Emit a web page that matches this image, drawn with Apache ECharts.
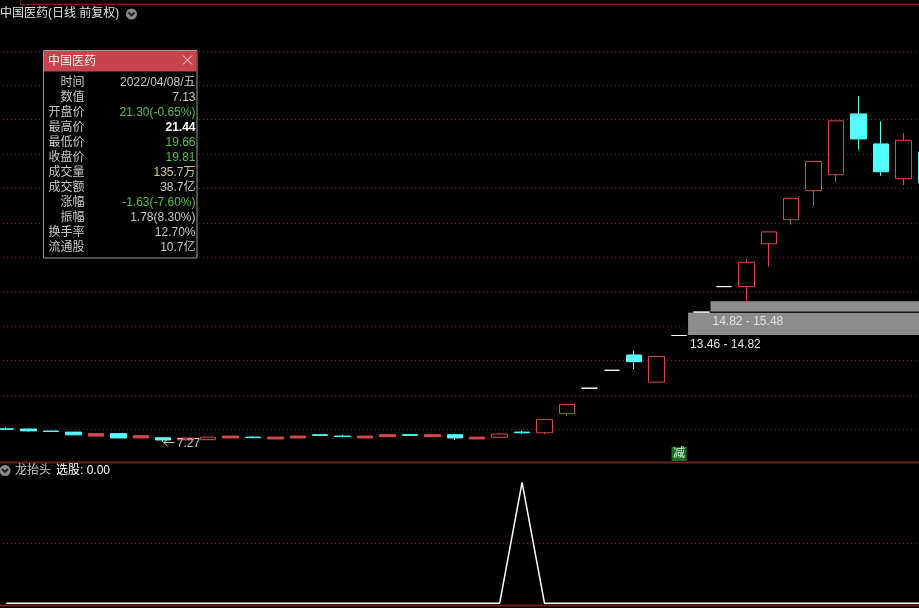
<!DOCTYPE html>
<html><head><meta charset="utf-8">
<script src="https://cdn.jsdelivr.net/npm/echarts@6/dist/echarts.min.js"></script>
<style>html,body{margin:0;padding:0;background:#000;overflow:hidden;width:919px;height:608px;position:relative}#c{position:absolute;left:-5px;top:0;width:942px;height:608px}</style>
</head><body><div id="c"></div>
<script>
// ---- data ----
const categories = [
 '2022/01/17','2022/01/18','2022/01/19','2022/01/20','2022/01/21','2022/01/24','2022/01/25','2022/01/26','2022/01/27','2022/01/28',
 '2022/02/07','2022/02/08','2022/02/09','2022/02/10','2022/02/11','2022/02/14','2022/02/15','2022/02/16','2022/02/17','2022/02/18',
 '2022/02/21','2022/02/22','2022/02/23','2022/02/24','2022/02/25','2022/02/28','2022/03/01','2022/03/02','2022/03/03','2022/03/04',
 '2022/03/07','2022/03/08','2022/03/09','2022/03/10','2022/03/11','2022/03/14','2022/03/15','2022/03/16','2022/03/17','2022/03/18',
 '2022/03/21','2022/03/22'];
const opens  = [8.04,8.03,7.91,7.85,7.62,7.76,7.51,7.52,7.40,7.41, 7.51,7.56,7.45,7.51,7.70,7.62,7.51,7.58,7.70,7.58, 7.70,7.45,7.55,7.85,7.81,8.92,10.40,11.44,12.33,10.75, 13.46,14.82,16.30,16.30,18.79,20.19,21.87,22.80,26.33,24.59, 22.57,24.12];
const closes = [8.02,7.92,7.89,7.69,7.76,7.51,7.64,7.39,7.50,7.56, 7.62,7.53,7.56,7.62,7.66,7.59,7.62,7.70,7.66,7.70, 7.51,7.56,7.74,7.81,8.59,9.45,10.40,11.44,11.94,12.24, 13.46,14.82,16.30,17.71,19.48,21.43,23.57,25.93,24.88,22.97, 24.80,22.34];
const highs  = [8.14,8.05,7.92,7.85,7.76,7.76,7.64,7.53,7.52,7.56, 7.62,7.62,7.56,7.62,7.71,7.70,7.62,7.70,7.71,7.70, 7.71,7.56,7.81,7.93,8.59,9.45,10.40,11.44,12.58,12.24, 13.46,14.82,16.30,17.90,19.48,21.43,23.57,25.93,27.37,25.90, 25.22,24.30];
const lows   = [7.97,7.87,7.88,7.68,7.62,7.51,7.51,7.27,7.36,7.41, 7.51,7.50,7.45,7.51,7.65,7.55,7.51,7.58,7.65,7.58, 7.39,7.45,7.54,7.74,7.74,8.78,10.40,11.44,11.51,10.75, 13.46,14.82,16.30,15.48,17.46,19.90,21.00,22.39,24.26,22.74, 22.20,22.10];
const signal = [0,0,0,0,0,0,0,0,0,0, 0,0,0,0,0,0,0,0,0,0, 0,0,0,1,0,0,0,0,0,0, 0,0,0,0,0,0,0,0,0,0, 0,0];
const gapStart = [30, 31];
const gapLow   = [13.46, 14.82];
const gapHigh  = [14.82, 15.48];
const reduceIdx = [30];
const priceTicks = {min: 6, max: 32, step: 2};
const signalTicks = {min: 0, max: 1, step: 0.5};
const chartTitle = '中国医药(日线 前复权)';
const indName = '龙抬头';
const indValue = '选股: 0.00';
const tipTitle = '中国医药';
const tipLabels = ['时间','数值','开盘价','最高价','最低价','收盘价','成交量','成交额','涨幅','振幅','换手率','流通股'];
const tipValues = ['2022/04/08/五','7.13','21.30(-0.65%)','21.44','19.66','19.81','135.7万','38.7亿','-1.63(-7.60%)','1.78(8.30%)','12.70%','10.7亿'];

// ---- styles ----
const UP = '#d84a4a', DOWN = '#54ffff', GRIDC = '#6e2626';
const FONT = '"Liberation Sans","Noto Sans CJK SC",sans-serif';
const GRAY = '#c8c8c8', GREEN = '#4cc04c';
const tipColors = [GRAY,GRAY,GREEN,'#ffffff',GREEN,GREEN,'#cccc8c',GRAY,GREEN,GRAY,GRAY,GRAY];
const OFF = 5; // canvas is shifted 5px left of the page
const mainTop = 16.34, mainH = 447.6;
const pxPerUnit = mainH / (priceTicks.max - priceTicks.min);

const candleData = categories.map((d, i) => {
  const o = opens[i], c = closes[i], l = lows[i], h = highs[i];
  const item = {value: [o, c, l, h]};
  if (o === c && h === l) item.itemStyle = {color: '#fff', color0: '#fff', borderColor: '#fff', borderColor0: '#fff'};
  else if (c > o && (c - o) * pxPerUnit < 2.5) item.itemStyle = {color: UP};
  return item;
});
const gapData = gapStart.map((s, i) => [s, gapLow[i], gapHigh[i]]);

const chart = echarts.init(document.getElementById('c'), null, {renderer: 'canvas'});
const splitCfg = {show: true, showMinLine: false, showMaxLine: false, lineStyle: {color: GRIDC, type: [1, 3], width: 1}};
chart.setOption({
  backgroundColor: '#000',
  animation: false,
  grid: [
    {left: 0, right: 0, top: mainTop, height: mainH},
    {left: 0, right: 0, top: 482.3, height: 121}
  ],
  xAxis: [
    {type: 'category', gridIndex: 0, data: categories, boundaryGap: true, axisLine: {show: false}, axisTick: {show: false}, axisLabel: {show: false}, splitLine: {show: false}},
    {type: 'category', gridIndex: 1, data: categories, boundaryGap: true, axisLine: {show: false}, axisTick: {show: false}, axisLabel: {show: false}, splitLine: {show: false}}
  ],
  yAxis: [
    {type: 'value', gridIndex: 0, min: priceTicks.min, max: priceTicks.max, interval: priceTicks.step, axisLine: {show: false}, axisTick: {show: false}, axisLabel: {show: false}, splitLine: splitCfg},
    {type: 'value', gridIndex: 1, min: signalTicks.min, max: signalTicks.max, interval: signalTicks.step, axisLine: {show: false}, axisTick: {show: false}, axisLabel: {show: false}, splitLine: splitCfg}
  ],
  series: [
    {
      type: 'candlestick', xAxisIndex: 0, yAxisIndex: 0, data: candleData, barWidth: 16, silent: true, z: 3,
      itemStyle: {color: '#000', color0: DOWN, borderColor: UP, borderColor0: DOWN, borderWidth: 1}
    },
    {
      type: 'custom', xAxisIndex: 0, yAxisIndex: 0, data: gapData, silent: true, z: 2,
      encode: {x: 0, y: [1, 2]},
      renderItem: (params, api) => {
        const idx = api.value(0), lo = api.value(1), hi = api.value(2);
        const pLo = api.coord([idx, lo]), pHi = api.coord([idx, hi]);
        const x0 = pLo[0] + 8.5;
        const x1 = params.coordSys.x + params.coordSys.width;
        return {type: 'group', children: [
          {type: 'rect', shape: {x: x0, y: pHi[1], width: x1 - x0, height: pLo[1] - pHi[1]}, style: {fill: '#8c8c8c', stroke: '#000', lineWidth: 1}},
          {type: 'text', style: {text: lo.toFixed(2) + ' - ' + hi.toFixed(2), x: x0 + 2.5, y: pLo[1] + 3.5, fill: '#e2e2e2', font: '12px ' + FONT, verticalAlign: 'top', align: 'left'}}
        ]};
      }
    },
    {
      type: 'line', xAxisIndex: 1, yAxisIndex: 1, data: signal, symbol: 'none', silent: true,
      lineStyle: {color: '#ffffff', width: 1.5}
    }
  ]
});

// ---- overlay graphics (page coordinates, shifted by OFF inside the group) ----
const g = [];
g.push({type: 'line', shape: {x1: 20, y1: 4.5, x2: 940, y2: 4.5}, style: {stroke: '#7a2222', lineWidth: 1}});
g.push({type: 'line', shape: {x1: 20.5, y1: 0, x2: 20.5, y2: 4.5}, style: {stroke: '#7a2222', lineWidth: 1}});
g.push({type: 'line', shape: {x1: -OFF, y1: 462.5, x2: 940, y2: 462.5}, style: {stroke: '#6e2020', lineWidth: 2}});
g.push({type: 'line', shape: {x1: -OFF, y1: 605.5, x2: 940, y2: 605.5}, style: {stroke: '#6e2020', lineWidth: 2}});
g.push({type: 'text', style: {text: chartTitle, x: 0, y: 14, fill: '#e0e0e0', font: '12px ' + FONT, verticalAlign: 'middle'}});
function icon(cx, cy) {
  g.push({type: 'circle', shape: {cx: cx, cy: cy, r: 5.5}, style: {fill: '#8a8a8a'}});
  g.push({type: 'polyline', shape: {points: [[cx - 3, cy - 1.5], [cx, cy + 1.5], [cx + 3, cy - 1.5]]}, style: {stroke: '#1c1c1c', lineWidth: 1.8, fill: null}});
}
icon(131.5, 14);
icon(5, 470.5);
g.push({type: 'text', style: {text: indName, x: 15, y: 471, fill: '#c8c8c8', font: '12px ' + FONT, verticalAlign: 'middle'}});
g.push({type: 'text', style: {text: indValue, x: 56, y: 471, fill: '#ffffff', font: '12px ' + FONT, verticalAlign: 'middle'}});
g.push({type: 'rect', shape: {x: 43.5, y: 50.5, width: 153.5, height: 207.5}, style: {fill: '#000', stroke: '#9a9a9a', lineWidth: 1}, z: 50});
g.push({type: 'rect', shape: {x: 44, y: 51, width: 152.5, height: 20.5}, style: {fill: '#c8444c'}, z: 51});
g.push({type: 'text', style: {text: tipTitle, x: 48, y: 61.5, fill: '#f2f2f2', font: '12px ' + FONT, verticalAlign: 'middle'}, z: 52});
g.push({type: 'line', shape: {x1: 183, y1: 55.5, x2: 192, y2: 64.5}, style: {stroke: '#e8e8e8', lineWidth: 1}, z: 52});
g.push({type: 'line', shape: {x1: 192, y1: 55.5, x2: 183, y2: 64.5}, style: {stroke: '#e8e8e8', lineWidth: 1}, z: 52});
tipLabels.forEach((lab, k) => {
  const y = 82.5 + 15 * k;
  g.push({type: 'text', style: {text: lab, x: 84.5, y: y, fill: GRAY, font: '12px ' + FONT, align: 'right', verticalAlign: 'middle'}, z: 52});
  g.push({type: 'text', style: {text: tipValues[k], x: 195.5, y: y, fill: tipColors[k], font: (k === 3 ? 'bold ' : '') + '12px ' + FONT, align: 'right', verticalAlign: 'middle'}, z: 52});
});
// lowest price marker (position from the chart's scales, converted to page coordinates)
let lowIdx = 0;
lows.forEach((v, i) => { if (v < lows[lowIdx]) lowIdx = i; });
const pLow = chart.convertToPixel({xAxisIndex: 0, yAxisIndex: 0}, [lowIdx, lows[lowIdx]]);
const ax = pLow[0] - OFF + 0.5, ay = Math.round(pLow[1]) + 0.5;
g.push({type: 'polyline', shape: {points: [[ax + 4, ay - 3.5], [ax, ay], [ax + 4, ay + 3.5]]}, style: {stroke: '#c8c8c8', lineWidth: 1, fill: null}, z: 10});
g.push({type: 'line', shape: {x1: ax, y1: ay, x2: ax + 11, y2: ay}, style: {stroke: '#c8c8c8', lineWidth: 1}, z: 10});
g.push({type: 'text', style: {text: lows[lowIdx].toFixed(2), x: ax + 13, y: ay + 1, fill: '#c8c8c8', font: '12px ' + FONT, verticalAlign: 'middle'}, z: 10});
reduceIdx.forEach(ri => {
  const p = chart.convertToPixel({xAxisIndex: 0, yAxisIndex: 0}, [ri, priceTicks.min]);
  const px = p[0] - OFF;
  g.push({type: 'rect', shape: {x: px - 7.5, y: 447, width: 15, height: 14}, style: {fill: '#1d6e22'}, z: 10});
  g.push({type: 'text', style: {text: '减', x: px, y: 454, fill: '#d8f0d8', font: '12px ' + FONT, align: 'center', verticalAlign: 'middle'}, z: 11});
});
chart.setOption({graphic: [{type: 'group', x: OFF, y: 0, children: g}]});
</script>
</body></html>
